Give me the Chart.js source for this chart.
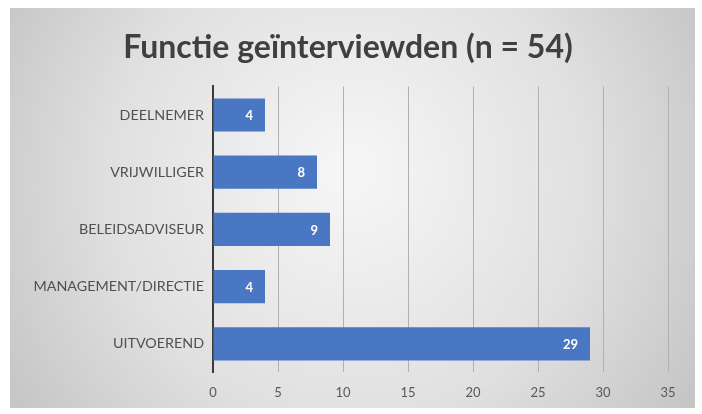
<!DOCTYPE html>
<html>
<head>
<meta charset="utf-8">
<script src="https://cdn.jsdelivr.net/npm/chart.js@4/dist/chart.umd.min.js"></script>
<style>
  html, body { margin: 0; padding: 0; background: #fff; }
  #wrap { width: 702px; height: 414px; }
</style>
</head>
<body>
<div id="wrap"><canvas id="functie_bar"></canvas></div>
<script>
var categories = ['DEELNEMER', 'VRIJWILLIGER', 'BELEIDSADVISEUR', 'MANAGEMENT/DIRECTIE', 'UITVOEREND'];
var counts = [4, 8, 9, 4, 29];
var tickValues = [0, 5, 10, 15, 20, 25, 30, 35];

// grey slide-like backdrop with a white frame around it
var backdrop = {
    id: 'backdrop',
    beforeDraw: function (chart) {
        var ctx = chart.ctx;
        ctx.save();
        ctx.fillStyle = '#ffffff';
        ctx.fillRect(0, 0, chart.width, chart.height);
        var g = ctx.createRadialGradient(350, 170, 20, 350, 190, 420);
        g.addColorStop(0, '#f5f5f5');
        g.addColorStop(0.55, '#e0e0e0');
        g.addColorStop(1, '#c2c2c2');
        ctx.fillStyle = g;
        ctx.fillRect(10, 8, 685, 400);
        ctx.restore();
    }
};

// white value labels at the end of each bar
var barValues = {
    id: 'barValues',
    afterDatasetsDraw: function (chart) {
        var ctx = chart.ctx;
        var meta = chart.getDatasetMeta(0);
        ctx.save();
        ctx.fillStyle = '#ffffff';
        ctx.font = 'bold 13px Lato, sans-serif';
        ctx.textAlign = 'right';
        ctx.textBaseline = 'middle';
        meta.data.forEach(function (bar, i) {
            ctx.fillText(String(counts[i]), bar.x - 12, bar.y + 1);
        });
        ctx.restore();
    }
};

new Chart(document.getElementById('functie_bar').getContext('2d'), {
    type: 'bar',
    data: {
        labels: categories,
        datasets: [
            {
                data: counts,
                backgroundColor: '#4a77c4',
                borderWidth: 0,
                categoryPercentage: 1,
                barPercentage: 0.58
            }
        ]
    },
    plugins: [backdrop, barValues],
    options: {
        indexAxis: 'y',
        responsive: true,
        maintainAspectRatio: false,
        animation: false,
        layout: {
            padding: { top: 5, right: 34, bottom: 0, left: 28 }
        },
        plugins: {
            legend: { display: false },
            tooltip: { enabled: false },
            title: {
                display: true,
                text: 'Functie geïnterviewden (n = 54)',
                color: '#404040',
                font: { family: 'Lato, sans-serif', size: 32, weight: 'bold' },
                padding: { top: 23, bottom: 20 }
            }
        },
        scales: {
            x: {
                min: 0,
                max: 35,
                afterBuildTicks: function (scale) {
                    scale.ticks = tickValues.map(function (v) { return { value: v }; });
                },
                grid: { color: '#b0b0b0', lineWidth: 1, drawTicks: false },
                border: { display: false },
                ticks: {
                    color: '#595959',
                    padding: 13,
                    font: { family: 'Lato, sans-serif', size: 13 }
                }
            },
            y: {
                grid: { display: false, drawTicks: false },
                border: { display: true, color: '#3a3a3a', width: 2 },
                afterFit: function (scale) { scale.width = 185; },
                ticks: {
                    color: '#505050',
                    padding: 9,
                    font: { family: 'Lato, sans-serif', size: 14.3 }
                }
            }
        }
    }
});
</script>
</body>
</html>
